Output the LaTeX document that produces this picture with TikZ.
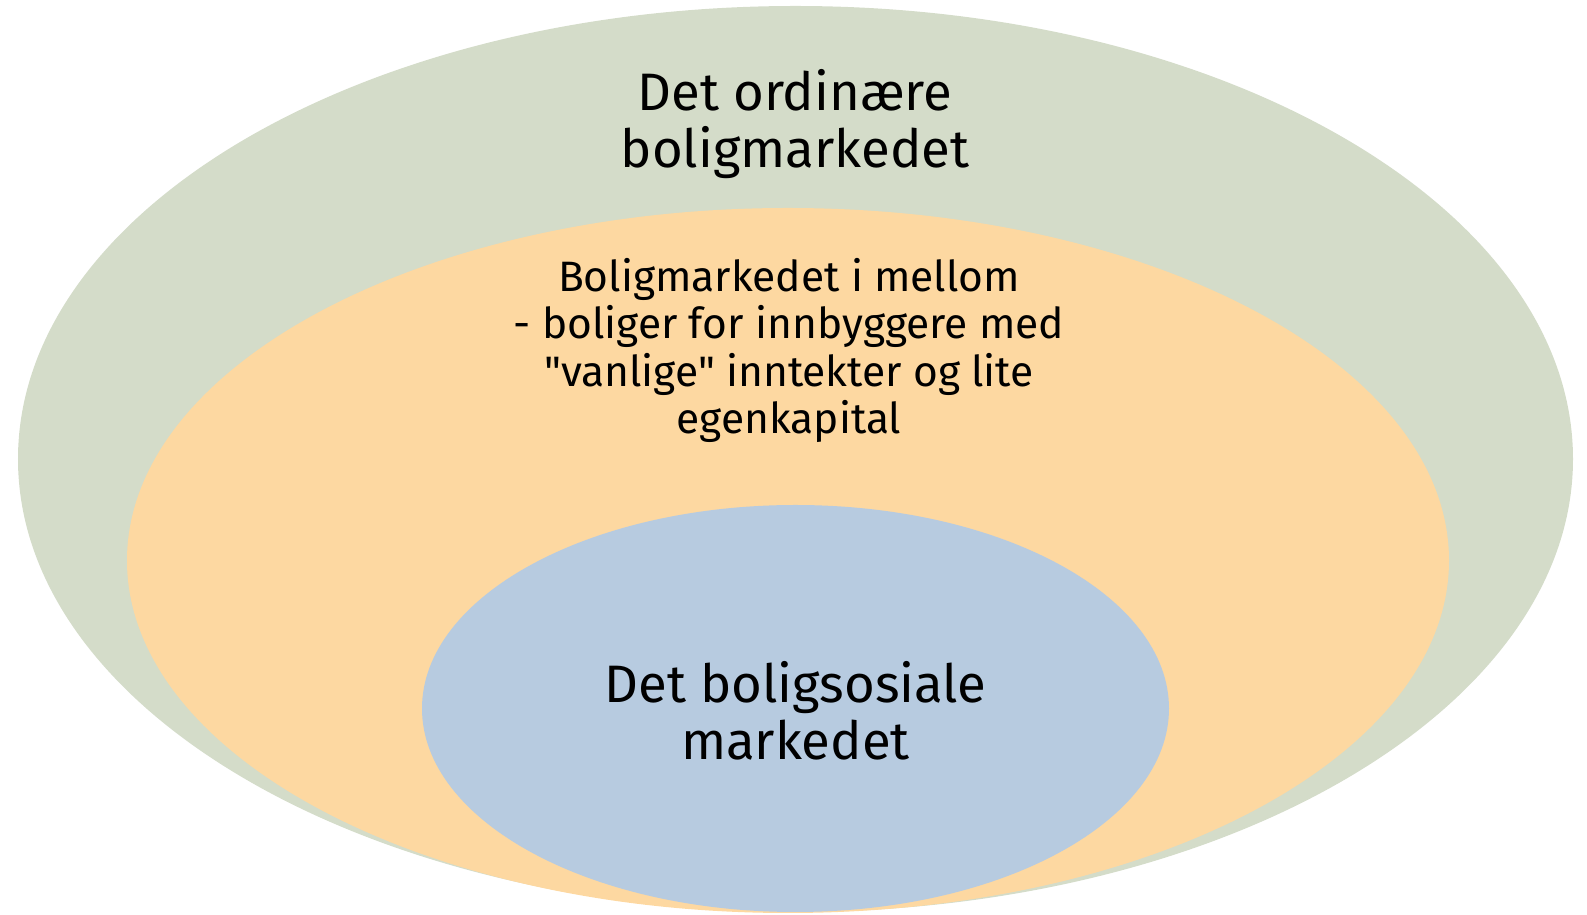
\documentclass[tikz,border=0pt]{standalone}
\usepackage{fontspec}
\setmainfont{Fira Sans}[Ligatures=TeXOff]
\definecolor{ordgreen}{HTML}{D4DCC9}
\definecolor{mellomorange}{HTML}{FDD8A1}
\definecolor{sosialblue}{HTML}{B7CBE0}
\begin{document}
\begin{tikzpicture}[
		bigtext/.style={align=center, font=\fontsize{30}{32.4}\selectfont},
		midtext/.style={align=center, font=\fontsize{24.2}{27}\selectfont}]
			\useasboundingbox (0,0) rectangle (31.74,18.3);
			% Det ordinære boligmarkedet (ytterst)
			\fill[ordgreen] (15.91,9.12) ellipse [x radius=15.55cm, y radius=9.06cm];
			% Boligmarkedet i mellom
			\fill[mellomorange] (15.76,7.09) ellipse [x radius=13.22cm, y radius=7.05cm];
			% Det boligsosiale markedet (innerst)
			\fill[sosialblue] (15.91,4.13) ellipse [x radius=7.47cm, y radius=4.07cm];
			% Tekst
			\node[bigtext] (ordinaere) at (15.9,15.81) {Det ordinære\\boligmarkedet};
			\node[midtext] (mellom) at (15.78,11.29) {Boligmarkedet i mellom\\- boliger for innbyggere med\\"vanlige" inntekter og lite\\egenkapital};
			\node[bigtext] (sosiale) at (15.91,4.08) {Det boligsosiale\\markedet};
		\end{tikzpicture}
\end{document}
